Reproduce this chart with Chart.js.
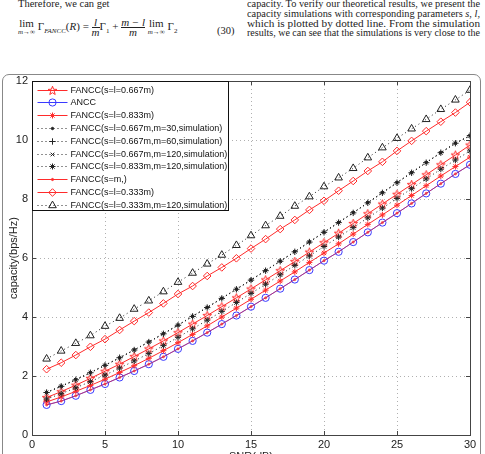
<!DOCTYPE html>
<html>
<head>
<meta charset="utf-8">
<script src="https://cdn.jsdelivr.net/npm/chart.js@4/dist/chart.umd.min.js"></script>
<style>
  html, body { margin: 0; padding: 0; background: #fff; overflow: hidden; }
  #page { position: relative; width: 485px; height: 454px; overflow: hidden; }
  .txt { position: absolute; font-family: "Liberation Serif", serif; font-size: 10.5px; color: #222; white-space: nowrap; }
  .right { left: 247px; transform-origin: 0 0; line-height: 10px; }
  .frac { display: inline-block; vertical-align: middle; text-align: center; font-style: italic; line-height: 9px; }
  .frac span { display: block; }
  .frac .den { border-top: 1px solid #222; }
  .lim { display: inline-block; vertical-align: middle; text-align: center; line-height: 9px; }
  .lim small { display: block; font-size: 7px; font-style: italic; }
  #frame { position: absolute; left: 2px; top: 74px; width: 477px; height: 400px; border: 1px solid #888; border-radius: 7px; }
  #wrap { position: absolute; left: 0; top: 0; width: 485px; height: 470px; }
</style>
</head>
<body>
<div id="page">
  <div class="txt" style="left:18px; top:-2px;">Therefore, we can get</div>
  <div class="txt" style="left:18px; top:18px; font-size:11px;">
    <span class="lim">lim<small>m→∞</small></span>
    Γ<sub style="font-size:7px;font-style:italic">FANCC</sub>(<i>R</i>) = <span class="frac"><span><i>l</i></span><span class="den">m</span></span>Γ<sub style="font-size:7px">1</sub> +
    <span class="frac"><span>m − l</span><span class="den">m</span></span>
    <span class="lim">lim<small>m→∞</small></span> Γ<sub style="font-size:7px">2</sub>
  </div>
  <div class="txt" style="left:217px; top:25px;">(30)</div>
  <div class="txt right" style="top:-1px;">capacity. To verify our theoretical results, we present the</div>
  <div class="txt right" style="top:9px;">capacity simulations with corresponding parameters <i>s</i>, <i>l</i>,</div>
  <div class="txt right" style="top:19px;">which is plotted by dotted line. From the simulation</div>
  <div class="txt right" style="top:28px;">results, we can see that the simulations is very close to the</div>
  <div id="frame"></div>
  <div id="wrap"><canvas id="capChart" width="485" height="470"></canvas></div>
</div>
<script>
// squeeze the paper text lines into the right column
document.querySelectorAll('.right').forEach(el => {
    const w = el.getBoundingClientRect().width;
    el.style.transform = 'scaleX(' + (233 / w) + ')';
});

// SNR (dB) values of the points
const snr = [1, 2, 3, 4, 5, 6, 7, 8, 9, 10, 11, 12, 13, 14, 15, 16, 17, 18, 19, 20, 21, 22, 23, 24, 25, 26, 27, 28, 29, 30];
const xTicks = [0, 5, 10, 15, 20, 25, 30];
const yTicks = [0, 2, 4, 6, 8, 10, 12];

const labels = [
    'FANCC(s=l=0.667m)',
    'ANCC',
    'FANCC(s=l=0.833m)',
    'FANCC(s=l=0.667m,m=30,simulation)',
    'FANCC(s=l=0.667m,m=60,simulation)',
    'FANCC(s=l=0.667m,m=120,simulation)',
    'FANCC(s=l=0.833m,m=120,simulation)',
    'FANCC(s=m,)',
    'FANCC(s=l=0.333m)',
    'FANCC(s=l=0.333m,m=120,simulation)'
];

const fancc667 = [1.27, 1.47, 1.69, 1.92, 2.16, 2.40, 2.66, 2.92, 3.19, 3.47, 3.76, 4.05, 4.35, 4.65, 4.95, 5.26, 5.57, 5.88, 6.20, 6.52, 6.84, 7.17, 7.50, 7.83, 8.16, 8.49, 8.82, 9.16, 9.49, 9.83];
const ancc = [1.02, 1.15, 1.33, 1.53, 1.73, 1.95, 2.17, 2.40, 2.65, 2.92, 3.19, 3.47, 3.76, 4.05, 4.35, 4.65, 4.96, 5.27, 5.59, 5.91, 6.21, 6.54, 6.87, 7.20, 7.52, 7.85, 8.19, 8.52, 8.85, 9.16];
const fancc833 = [1.12, 1.29, 1.48, 1.68, 1.89, 2.12, 2.35, 2.60, 2.86, 3.13, 3.41, 3.70, 4.00, 4.30, 4.60, 4.91, 5.22, 5.53, 5.85, 6.17, 6.48, 6.81, 7.14, 7.46, 7.79, 8.12, 8.45, 8.78, 9.10, 9.42];
const sim667m30 = [1.45, 1.66, 1.88, 2.12, 2.37, 2.62, 2.89, 3.16, 3.44, 3.73, 4.03, 4.33, 4.64, 4.95, 5.26, 5.58, 5.90, 6.22, 6.55, 6.88, 7.21, 7.54, 7.88, 8.22, 8.56, 8.90, 9.24, 9.58, 9.90, 10.14];
const sim667m60 = [1.44, 1.65, 1.87, 2.11, 2.36, 2.62, 2.88, 3.15, 3.43, 3.72, 4.02, 4.32, 4.63, 4.94, 5.25, 5.57, 5.89, 6.21, 6.54, 6.87, 7.20, 7.53, 7.87, 8.21, 8.55, 8.89, 9.23, 9.57, 9.89, 10.15];
const sim667m120 = [1.44, 1.65, 1.87, 2.11, 2.36, 2.61, 2.88, 3.15, 3.43, 3.72, 4.02, 4.32, 4.63, 4.94, 5.25, 5.57, 5.89, 6.21, 6.54, 6.87, 7.20, 7.53, 7.87, 8.21, 8.55, 8.89, 9.23, 9.56, 9.89, 10.14];
const sim833m120 = [1.22, 1.40, 1.60, 1.81, 2.03, 2.27, 2.51, 2.76, 3.03, 3.31, 3.60, 3.89, 4.19, 4.49, 4.80, 5.11, 5.43, 5.75, 6.07, 6.39, 6.71, 7.03, 7.36, 7.69, 8.02, 8.35, 8.68, 9.01, 9.32, 9.63];
const fanccSm = [1.02, 1.15, 1.33, 1.53, 1.73, 1.95, 2.17, 2.40, 2.65, 2.92, 3.19, 3.47, 3.76, 4.05, 4.35, 4.65, 4.96, 5.27, 5.59, 5.91, 6.21, 6.54, 6.87, 7.20, 7.52, 7.85, 8.19, 8.52, 8.85, 9.16];
const fancc333 = [2.23, 2.45, 2.71, 2.99, 3.25, 3.56, 3.86, 4.15, 4.46, 4.78, 5.05, 5.39, 5.68, 5.99, 6.32, 6.64, 6.98, 7.29, 7.63, 7.94, 8.28, 8.61, 8.95, 9.26, 9.63, 9.97, 10.30, 10.62, 10.93, 11.28];
const sim333m120 = [2.58, 2.85, 3.11, 3.37, 3.69, 3.96, 4.27, 4.55, 4.86, 5.18, 5.49, 5.80, 6.10, 6.43, 6.76, 7.10, 7.42, 7.76, 8.08, 8.42, 8.72, 9.04, 9.40, 9.74, 10.06, 10.38, 10.70, 11.04, 11.36, 11.69];

const RED = '#ff2b2b';
const BLUE = '#3a3aff';
const BLACK = '#222';

// MATLAB-like pentagram marker
function pentagram(color) {
    const c = document.createElement('canvas');
    c.width = 11; c.height = 11;
    const g = c.getContext('2d');
    g.strokeStyle = color;
    g.lineWidth = 1;
    g.beginPath();
    for (let i = 0; i < 10; i++) {
        const r = i % 2 === 0 ? 4.6 : 1.9;
        const a = -Math.PI / 2 + i * Math.PI / 5;
        const px = 5.5 + r * Math.cos(a), py = 5.8 + r * Math.sin(a);
        if (i === 0) g.moveTo(px, py); else g.lineTo(px, py);
    }
    g.closePath();
    g.stroke();
    return c;
}
const starImg = pentagram(RED);

function series(label, data, color, style, radius, solid, filled) {
    return {
        label: label,
        data: data,
        borderColor: color,
        backgroundColor: filled ? color : 'rgba(0,0,0,0)',
        pointBorderColor: color,
        pointBackgroundColor: filled ? color : 'rgba(0,0,0,0)',
        borderWidth: 1,
        borderDash: solid ? [] : [1, 3],
        showLine: true,
        pointStyle: style,
        pointRadius: radius,
        pointBorderWidth: 1,
        pointHoverRadius: radius,
        tension: 0
    };
}

const datasets = [
    series(labels[0], fancc667, RED, starImg, 5, true, false),
    series(labels[1], ancc, BLUE, 'circle', 3.6, true, false),
    series(labels[2], fancc833, RED, 'star', 3, true, false),
    series(labels[3], sim667m30, BLACK, 'circle', 1.2, false, true),
    series(labels[4], sim667m60, BLACK, 'cross', 3.2, false, false),
    series(labels[5], sim667m120, BLACK, 'crossRot', 2.6, false, false),
    series(labels[6], sim833m120, BLACK, 'star', 3, false, false),
    series(labels[7], fanccSm, 'rgba(255,40,40,0.6)', 'circle', 1.1, true, true),
    series(labels[8], fancc333, RED, 'rectRot', 3.8, true, false),
    series(labels[9], sim333m120, BLACK, 'triangle', 4.4, false, false)
];
// later series drawn on top, like matlab
datasets.forEach((d, i) => {
    d.data = d.data.map((v, k) => ({ x: snr[k], y: v }));
    d.order = datasets.length - i;
});
datasets[7].legendColor = RED;

function marker(ctx, ds, x, y) {
    const st = ds.pointStyle, r = ds.pointRadius;
    ctx.save();
    ctx.strokeStyle = ds.legendColor || ds.pointBorderColor;
    ctx.fillStyle = ds.legendColor || ds.pointBackgroundColor;
    ctx.lineWidth = 1;
    ctx.setLineDash([]);
    ctx.beginPath();
    if (typeof st !== 'string') {
        ctx.drawImage(st, Math.round(x - st.width / 2), Math.round(y - st.height / 2));
    } else if (st === 'circle') {
        ctx.arc(x, y, r, 0, Math.PI * 2);
        ctx.fill(); ctx.stroke();
    } else if (st === 'rectRot') {
        ctx.moveTo(x, y - r); ctx.lineTo(x + r, y); ctx.lineTo(x, y + r); ctx.lineTo(x - r, y); ctx.closePath();
        ctx.stroke();
    } else if (st === 'triangle') {
        ctx.moveTo(x, y - r); ctx.lineTo(x + r * 0.87, y + r * 0.5); ctx.lineTo(x - r * 0.87, y + r * 0.5); ctx.closePath();
        ctx.stroke();
    } else {
        const arms = st === 'cross' ? [0, 90] : st === 'crossRot' ? [45, 135] : [0, 45, 90, 135];
        arms.forEach(a => {
            const t = a * Math.PI / 180;
            ctx.moveTo(x - r * Math.cos(t), y - r * Math.sin(t));
            ctx.lineTo(x + r * Math.cos(t), y + r * Math.sin(t));
        });
        ctx.stroke();
    }
    ctx.restore();
}

// box, inner ticks and legend drawn by hand
const boxPlugin = {
    id: 'boxPlugin',
    afterDatasetsDraw(chart) {
        const { ctx, chartArea: a, scales } = chart;
        ctx.save();
        ctx.strokeStyle = '#444';
        ctx.lineWidth = 1;
        xTicks.forEach(v => {
            const px = Math.round(scales.x.getPixelForValue(v)) + 0.5;
            ctx.beginPath();
            ctx.moveTo(px, a.bottom); ctx.lineTo(px, a.bottom - 4);
            ctx.moveTo(px, a.top); ctx.lineTo(px, a.top + 4);
            ctx.stroke();
        });
        yTicks.forEach(v => {
            const py = Math.round(scales.y.getPixelForValue(v)) + 0.5;
            ctx.beginPath();
            ctx.moveTo(a.left, py); ctx.lineTo(a.left + 4, py);
            ctx.moveTo(a.right, py); ctx.lineTo(a.right - 4, py);
            ctx.stroke();
        });
        ctx.strokeRect(Math.round(a.left) + 0.5, Math.round(a.top) + 0.5, Math.round(a.right - a.left), Math.round(a.bottom - a.top));

        // legend
        const lx = Math.round(a.left) + 0.5, ly = Math.round(a.top) + 0.5;
        const lw = 196, rowH = 12.8, lh = 129;
        ctx.fillStyle = '#fff';
        ctx.fillRect(lx, ly, lw, lh);
        ctx.strokeStyle = '#111';
        ctx.strokeRect(lx, ly, lw, lh);
        ctx.font = '9px "Liberation Sans", Arial, sans-serif';
        ctx.textBaseline = 'middle';
        chart.data.datasets.forEach((ds, i) => {
            const y = Math.round(ly + 8 + i * rowH) + 0.5;
            ctx.save();
            ctx.strokeStyle = ds.legendColor || ds.borderColor;
            ctx.setLineDash(ds.borderDash);
            ctx.beginPath();
            ctx.moveTo(lx + 5, y); ctx.lineTo(lx + 35, y);
            ctx.stroke();
            ctx.restore();
            marker(ctx, ds, lx + 20, y);
            ctx.fillStyle = '#111';
            ctx.fillText(ds.label, lx + 38, y);
        });
        ctx.restore();
    }
};

const ctx = document.getElementById('capChart').getContext('2d');
new Chart(ctx, {
    type: 'line',
    data: { datasets: datasets },
    options: {
        responsive: false,
        animation: false,
        events: [],
        layout: { padding: { top: 81, right: 15, left: 0, bottom: 0 } },
        plugins: { legend: { display: false }, tooltip: { enabled: false } },
        scales: {
            x: {
                type: 'linear',
                min: 0, max: 30,
                afterBuildTicks: s => { s.ticks = xTicks.map(v => ({ value: v })); },
                afterFit: s => { s.height = 35; },
                ticks: { padding: 3, color: '#222', font: { family: '"Liberation Sans", Arial', size: 11 } },
                grid: { color: '#b0b0b0', drawTicks: false },
                border: { display: false, dash: [1, 3] },
                title: { display: true, text: 'SNR(dB)', color: '#222', padding: { top: 0, bottom: 6 }, font: { family: '"Liberation Sans", Arial', size: 11 } }
            },
            y: {
                type: 'linear',
                min: 0, max: 12,
                afterBuildTicks: s => { s.ticks = yTicks.map(v => ({ value: v })); },
                afterFit: s => { s.width = 32; },
                ticks: { padding: 4, color: '#222', font: { family: '"Liberation Sans", Arial', size: 11 } },
                grid: { color: '#b0b0b0', drawTicks: false },
                border: { display: false, dash: [1, 3] },
                title: { display: true, text: 'capacity(bps/Hz)', color: '#222', padding: { top: 7, bottom: 0 }, font: { family: '"Liberation Sans", Arial', size: 11 } }
            }
        }
    },
    plugins: [boxPlugin]
});
</script>
</body>
</html>
